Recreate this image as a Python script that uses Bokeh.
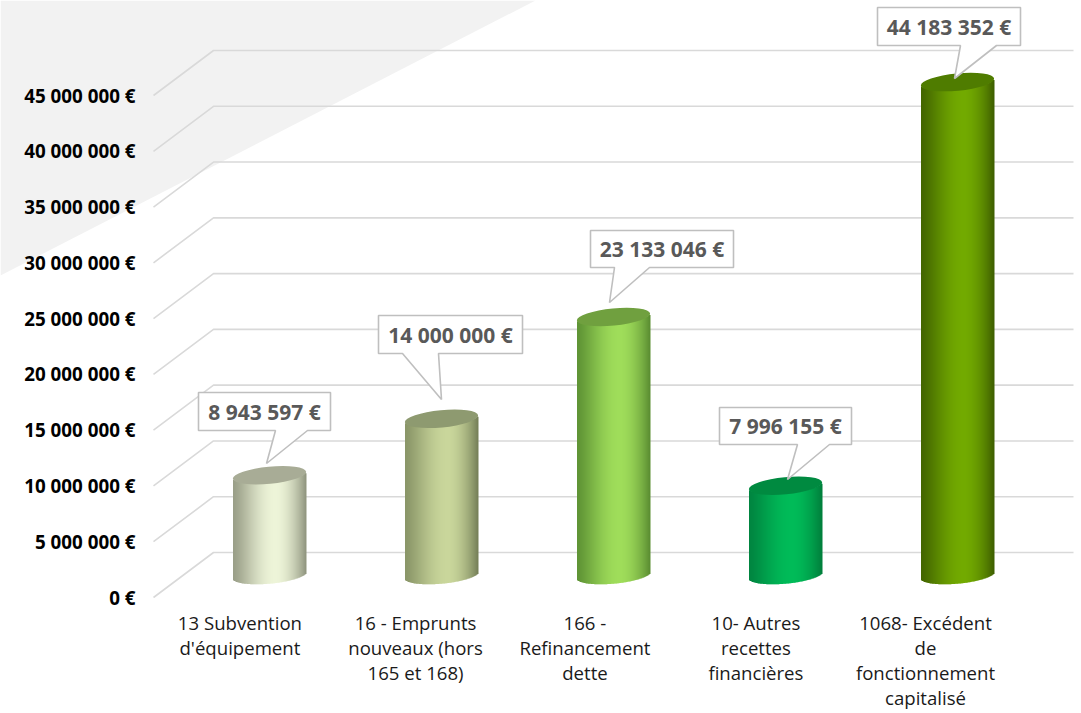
import numpy as np
from bokeh.plotting import figure
from bokeh.models import FixedTicker, Range1d
from bokeh.core.properties import value
from bokeh.embed import file_html
from bokeh.resources import INLINE

categories = ["13 Subvention\nd'équipement", "16 - Emprunts\nnouveaux (hors\n165 et 168)",
              "166 -\nRefinancement\ndette", "10- Autres\nrecettes\nfinancières",
              "1068- Excédent\nde\nfonctionnement\ncapitalisé"]
category_ticks = [-0.172, 0.849, 1.834, 2.828, 3.814]
values = [8943597, 14000000, 23133046, 7996155, 44183352]
value_labels = ["8 943 597 €", "14 000 000 €", "23 133 046 €", "7 996 155 €", "44 183 352 €"]
y_ticks = [0, 5000000, 10000000, 15000000, 20000000, 25000000, 30000000, 35000000, 40000000, 45000000]
y_tick_labels = ["0 €", "5 000 000 €", "10 000 000 €", "15 000 000 €", "20 000 000 €",
                 "25 000 000 €", "30 000 000 €", "35 000 000 €", "40 000 000 €", "45 000 000 €"]
edge_left = ["#9a9f88", "#8a9668", "#5f9435", "#008540", "#436600"]
centre = ["#edf4d8", "#c9d69b", "#9fdd5a", "#00bb58", "#72aa00"]
edge_right = ["#8c917b", "#727c55", "#588a30", "#007c3a", "#3c5c00"]
top_col = ["#a8ac96", "#8e9a70", "#70a03f", "#008a40", "#4f7c00"]

# canvas-pixel layout: the frame fills the canvas, the axes sit at fixed locations inside it
W, H = 1081, 713
Y0, YSCALE = 597.0, 502.0 / 45e6
X0, XSTEP = 269.0, 172.0
DX, DY = 60.0, 45.0
def vy(py):
    return (Y0 - py) / YSCALE
def vx(px):
    return (px - X0) / XSTEP

p = figure(width=W, height=H, output_backend="svg", toolbar_location=None,
           x_range=Range1d(vx(0), vx(W)), y_range=Range1d(vy(H), vy(0)),
           min_border_left=0, min_border_right=0, min_border_top=0,
           min_border_bottom=0, outline_line_color=None)
p.grid.visible = False

p.yaxis.ticker = FixedTicker(ticks=y_ticks)
p.yaxis.major_label_overrides = dict(zip(y_ticks, y_tick_labels))
p.xaxis.ticker = FixedTicker(ticks=category_ticks)
p.xaxis.major_label_overrides = dict(zip(category_ticks, categories))
p.yaxis.fixed_location = vx(147)
p.xaxis.fixed_location = vy(597)
for ax in (p.xaxis[0], p.yaxis[0]):
    ax.axis_line_color = None
    ax.major_tick_line_color = None
    ax.minor_tick_line_color = None
    ax.major_tick_out = 0
    ax.major_tick_in = 0
    ax.major_label_text_font = "Open Sans"
p.yaxis.major_label_text_font_size = "18.8px"
p.yaxis.major_label_text_font_style = "bold"
p.yaxis.major_label_text_color = "#000000"
p.yaxis.major_label_standoff = 12
p.xaxis.major_label_text_font_size = "18.6px"
p.xaxis.major_label_text_color = "#1a1a1a"
p.xaxis.major_label_standoff = 12
p.xaxis.major_label_text_line_height = 1.0

# pale wedge behind the chart
p.patch(vx(np.array([0.0, 535.0, 0.0])), vy(np.array([0.0, 0.0, 275.0])), fill_color="#f2f2f2", line_color=None)

# gridlines: front edge -> back wall -> right end
gx, gy = [], []
for t in y_ticks:
    gx.append([vx(153), vx(153 + DX), vx(1073)])
    gy.append([t, t + DY / YSCALE, t + DY / YSCALE])
p.multi_line(gx, gy, line_color="#d9d9d9", line_width=1.6)

def hex2rgb(h):
    return np.array([int(h[i:i + 2], 16) for i in (1, 3, 5)], float)

A, B, TH = 36.8, 8.6, np.radians(5.5)
ts = np.linspace(0, 2 * np.pi, 721)
ex = A * np.cos(ts) * np.cos(TH) - B * np.sin(ts) * np.sin(TH)
ey = -(A * np.cos(ts) * np.sin(TH) + B * np.sin(ts) * np.cos(TH))  # page y down


def lower(dx):
    out = []
    for d in np.atleast_1d(dx):
        m = np.abs(ex - d) < 0.6
        out.append(ey[m].max() if m.any() else 0.0)
    return np.array(out)


base_py = Y0 - DY / 2
for i, v in enumerate(values):
    cx = X0 + XSTEP * i
    dxs = np.arange(-36.5, 36.5, 1.0)
    fr = (dxs + 36.5) / 73.0
    low = lower(dxs + 0.5)
    cols = []
    for f in fr:
        if f < 0.58:
            c = hex2rgb(edge_left[i]) + (hex2rgb(centre[i]) - hex2rgb(edge_left[i])) * (np.sin(f / 0.58 * np.pi / 2) ** 1.3)
        else:
            c = hex2rgb(centre[i]) + (hex2rgb(edge_right[i]) - hex2rgb(centre[i])) * (((f - 0.58) / 0.42) ** 1.8)
        cols.append("#%02x%02x%02x" % tuple(int(round(k)) for k in c))
    top_py = base_py - v * YSCALE
    p.quad(left=vx(cx + dxs), right=vx(cx + dxs + 1.5),
           top=vy(top_py + low - 1), bottom=vy(base_py + low),
           fill_color=cols, line_color=None)
    p.quad(left=vx(cx + dxs[-1:]), right=vx(cx + dxs[-1:] + 1.0),
           top=vy(top_py + low[-1:] - 1), bottom=vy(base_py + low[-1:]),
           fill_color=cols[-1], line_color=None)
    p.ellipse(x=[i], y=[vy(top_py)], width=2 * A, height=2 * B, width_units="screen", height_units="screen",
              angle=TH, fill_color=top_col[i], line_color=None)

# callouts (canvas pixels): box l, r, t, b, tail base l, r, tail tip x, y
callouts = [
    (198, 330, 392, 430, 275, 307, 266, 463),
    (378, 522, 315, 353, 402, 438, 441, 399),
    (590, 733, 230, 267, 614, 649, 609, 302),
    (719, 851, 407, 444, 797, 829, 787, 479),
    (877, 1020, 7, 45, 960, 996, 954, 78),
]
for lab, (l, r, t, b, bl, br, tx, ty) in zip(value_labels, callouts):
    xs = [l, r, r, br, tx, bl, l, l]
    ys = [t, t, b, b, ty, b, b, t]
    p.patch(vx(np.array(xs, float)), vy(np.array(ys, float)), fill_color="#ffffff",
            line_color="#bfbfbf", line_width=1.6)
    p.text(x=[vx((l + r) / 2)], y=[vy((t + b) / 2)], text=[lab], text_font=value("Open Sans"),
           text_font_style="bold", text_font_size="21px", text_color="#595959",
           text_align="center", text_baseline="middle")

open("out.html", "w").write(file_html(p, INLINE))
